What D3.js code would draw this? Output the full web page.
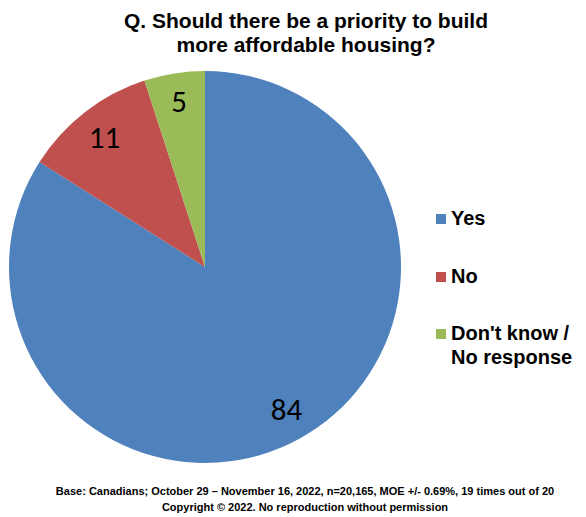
<!DOCTYPE html>
<html>
<head>
<meta charset="utf-8">
<script src="https://cdn.jsdelivr.net/npm/d3@7"></script>
<style>
  body { margin: 0; background: #fff; }
  svg { display: block; }
</style>
</head>
<body>
<div id="chart"></div>
<script>
var categories = ["Yes", "No", "Don't know / No response"];
var legendLines = [["Yes"], ["No"], ["Don't know /", "No response"]];
var values = [84, 11, 5];
var colors = ["#4F81BD", "#C0504D", "#9BBB59"];
var titleLines = ["Q. Should there be a priority to build", "more affordable housing?"];
var footLines = ["Base: Canadians; October 29 \u2013 November 16, 2022, n=20,165, MOE +/- 0.69%, 19 times out of 20",
                 "Copyright \u00a9 2022. No reproduction without permission"];

var W = 586, H = 517;
var cx = 205, cy = 267, R = 196;

var svg = d3.select("#chart").append("svg").attr("width", W).attr("height", H);

// title
svg.append("g").selectAll("text").data(titleLines).join("text")
  .attr("x", 306).attr("y", function(d, i) { return 28 + i * 24; })
  .attr("text-anchor", "middle")
  .style("font-family", "Arial, 'Liberation Sans', sans-serif")
  .style("font-weight", "bold").style("font-size", "21px")
  .text(function(d) { return d; });

// pie
var pie = d3.pie().sort(null).value(function(d) { return d; });
var arc = d3.arc().innerRadius(0).outerRadius(R);
var arcs = pie(values);

var g = svg.append("g").attr("transform", "translate(" + cx + "," + cy + ")");
g.selectAll("path").data(arcs).join("path")
  .attr("d", arc)
  .attr("fill", function(d, i) { return colors[i]; });

// data labels
var labelPos = [[81.5, 153], [-100.5, -119], [-26, -155]];
g.selectAll("text.lbl").data(arcs).join("text")
  .attr("class", "lbl")
  .attr("x", function(d, i) { return labelPos[i][0]; })
  .attr("y", function(d, i) { return labelPos[i][1]; })
  .attr("text-anchor", "middle")
  .style("font-family", "Carlito, Calibri, 'Liberation Sans', sans-serif")
  .style("font-size", "31px")
  .text(function(d) { return d.data; });

// legend
var legY = [225, 283, 340];
var leg = svg.append("g").selectAll("g").data(categories).join("g")
  .attr("transform", function(d, i) { return "translate(436," + legY[i] + ")"; });
leg.append("rect").attr("x", 0).attr("y", -11).attr("width", 10).attr("height", 10)
  .attr("fill", function(d, i) { return colors[i]; });
leg.each(function(d, i) {
  d3.select(this).selectAll("text").data(legendLines[i]).join("text")
    .attr("x", 15).attr("y", function(t, j) { return j * 24; })
    .style("font-family", "Arial, 'Liberation Sans', sans-serif")
    .style("font-weight", "bold").style("font-size", "20px")
    .text(function(t) { return t; });
});

// footer
svg.append("g").selectAll("text").data(footLines).join("text")
  .attr("x", 305).attr("y", function(d, i) { return 495 + i * 16; })
  .attr("text-anchor", "middle")
  .style("font-family", "'Liberation Sans Narrow', 'Arial Narrow', sans-serif")
  .style("font-weight", "bold").style("font-size", "11px")
  .text(function(d) { return d; });
</script>
</body>
</html>
